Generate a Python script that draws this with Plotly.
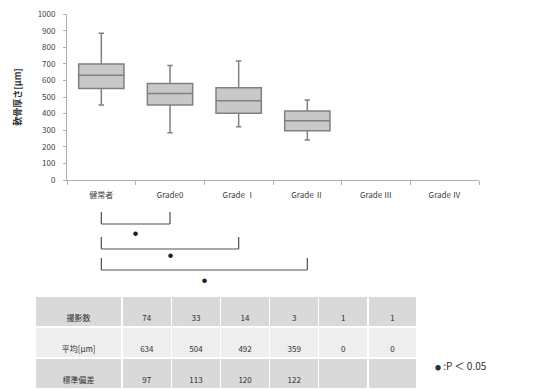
import plotly.graph_objects as go

categories = ["健常者", "Grade0", "Grade Ⅰ", "Grade Ⅱ", "Grade Ⅲ", "Grade Ⅳ"]
upper_whisker = [885, 690, 718, 482, None, None]
q3_values = [700, 582, 556, 416, None, None]
median_values = [632, 522, 478, 357, None, None]
q1_values = [552, 452, 402, 297, None, None]
lower_whisker = [452, 285, 321, 241, None, None]
y_ticks = [0, 100, 200, 300, 400, 500, 600, 700, 800, 900, 1000]

row_labels = ["撮影数", "平均[μm]", "標準偏差"]
count_row = ["74", "33", "14", "3", "1", "1"]
mean_row = ["634", "504", "492", "359", "0", "0"]
sd_row = ["97", "113", "120", "122", "", ""]

comparisons = [(0, 1), (0, 2), (0, 3)]

W, H = 542, 389
OFF = 8  # page body margin
def px(p):
    return (p - OFF) / W
def py(p):
    return 1 - (p - OFF) / H

FONT = "Noto Sans CJK JP, Noto Sans, sans-serif"

fig = go.Figure()

idx = [i for i, v in enumerate(median_values) if v is not None]
fig.add_trace(go.Box(
    x=[categories[i] for i in idx],
    q1=[q1_values[i] for i in idx],
    median=[median_values[i] for i in idx],
    q3=[q3_values[i] for i in idx],
    lowerfence=[lower_whisker[i] for i in idx],
    upperfence=[upper_whisker[i] for i in idx],
    fillcolor="#c8c8c8",
    line=dict(color="#808080", width=1.5),
    whiskerwidth=0.12,
    width=0.66,
    boxpoints=False,
    showlegend=False,
    hoverinfo="skip",
))

fig.update_xaxes(
    categoryorder="array", categoryarray=categories, range=[-0.5, 5.5],
    domain=[px(67), px(479)], showline=True, linecolor="#b0b0b0", linewidth=1,
    ticks="outside", tickson="boundaries", ticklen=4, tickcolor="#b0b0b0",
    tickfont=dict(family=FONT, size=8, color="#404040"), showgrid=False,
    anchor="y", automargin=False, ticklabelstandoff=7,
)
fig.update_yaxes(
    range=[0, 1001], tickmode="array", tickvals=y_ticks, domain=[py(180), py(14)],
    showline=True, linecolor="#b0b0b0", linewidth=1,
    ticks="outside", ticklen=3, tickcolor="#b0b0b0",
    tickfont=dict(family=FONT, size=8, color="#404040"), showgrid=False,
    zeroline=False, automargin=False, ticklabelstandoff=6, ticklabeloverflow="allow",
    title=dict(text="<b>軟骨厚さ[μm]</b>", font=dict(family=FONT, size=9, color="#303030"), standoff=14),
)

# significance brackets
bracket_levels = [(212, 224, 232), (237, 249, 255), (258, 270, 279)]
for (a, b), (yt, yb, ys) in zip(comparisons, bracket_levels):
    lc = dict(color="#505050", width=1.2)
    fig.add_shape(type="line", xref="x", yref="paper", x0=a, x1=a, y0=py(yt), y1=py(yb), line=lc)
    fig.add_shape(type="line", xref="x", yref="paper", x0=b, x1=b, y0=py(yt), y1=py(yb), line=lc)
    fig.add_shape(type="line", xref="x", yref="paper", x0=a, x1=b, y0=py(yb), y1=py(yb), line=lc)
    fig.add_annotation(x=(a + b) / 2, xref="x", y=py(ys), yref="paper", text="<b>●</b>",
                       showarrow=False, font=dict(family=FONT, size=5, color="#202020"),
                       xanchor="center", yanchor="middle")

# table: background cells, then the values drawn slightly lower inside them
col_widths = [87, 49, 49, 49, 49, 49, 49]
header_vals = [row_labels[0]] + count_row
body_cols = [row_labels[1:]] + [[m, s] for m, s in zip(mean_row, sd_row)]
clear = "rgba(0,0,0,0)"
fig.add_trace(go.Table(
    domain=dict(x=[px(35), px(417)], y=[0, py(296)]),
    columnwidth=col_widths,
    header=dict(values=["" for _ in header_vals], fill_color="#d9d9d9",
                line=dict(color="white", width=1.5), height=31),
    cells=dict(values=[["", ""] for _ in body_cols],
               fill_color=[["#eeeeee", "#d9d9d9"]] * len(body_cols),
               line=dict(color="white", width=1.5), height=31),
))
fig.add_trace(go.Table(
    domain=dict(x=[px(35), px(417)], y=[0, py(307)]),
    columnwidth=col_widths,
    header=dict(values=header_vals, fill_color=clear,
                line=dict(color=clear, width=0), height=31, align="center",
                font=dict(family=FONT, size=8, color="#303030")),
    cells=dict(values=body_cols, fill_color=clear,
               line=dict(color=clear, width=0), height=31, align="center",
               font=dict(family=FONT, size=8, color="#303030")),
))

fig.add_annotation(x=px(433), xref="paper", y=py(365), yref="paper",
                   text="<span style='font-size:6px'>●</span> :P ＜ 0.05",
                   showarrow=False, xanchor="left", yanchor="middle",
                   font=dict(family=FONT, size=10, color="#303030"))

fig.update_layout(
    width=W, height=H, margin=dict(l=0, r=0, t=0, b=0),
    paper_bgcolor="white", plot_bgcolor="white",
)

fig.write_html("out.html")
